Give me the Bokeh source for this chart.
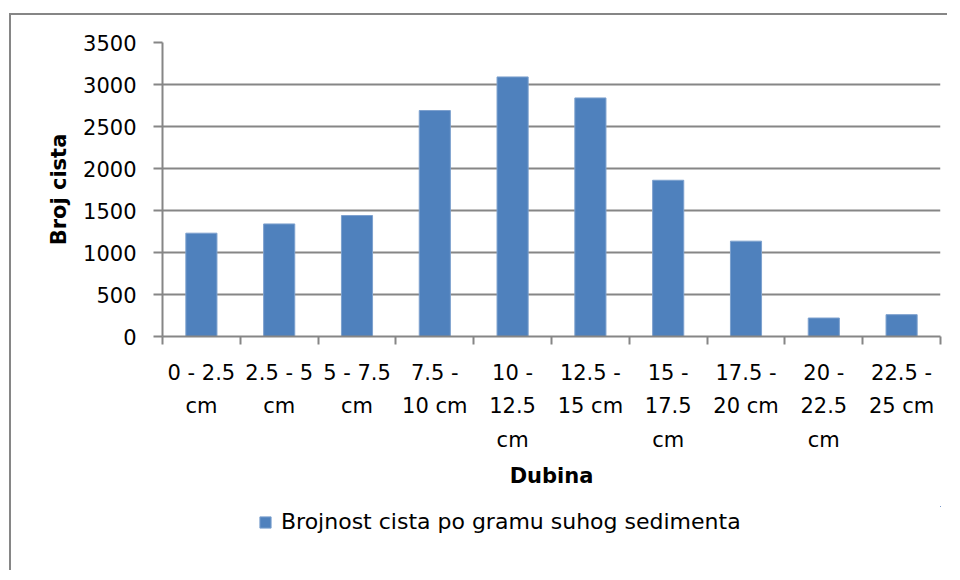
from bokeh.plotting import figure
from bokeh.layouts import column
from bokeh.models import ColumnDataSource, FixedTicker, Legend, LegendItem, Range1d
from bokeh.embed import file_html
from bokeh.resources import INLINE

# ---- data ----
categories = ["0 - 2.5\ncm", "2.5 - 5\ncm", "5 - 7.5\ncm", "7.5 -\n10 cm", "10 -\n12.5\ncm",
              "12.5 -\n15 cm", "15 -\n17.5\ncm", "17.5 -\n20 cm", "20 -\n22.5\ncm", "22.5 -\n25 cm"]
values = [1230, 1340, 1440, 2690, 3090, 2840, 1860, 1135, 220, 260]
y_ticks = [0, 500, 1000, 1500, 2000, 2500, 3000, 3500]
series_name = "Brojnost cista po gramu suhog sedimenta"
x_title = "Dubina"
y_title = "Broj cista"

FONT = "DejaVu Sans"
FS = "21px"
GRAY = "#868686"
BAR = "#4F81BD"
BAR_EDGE = "#7DA1CE"

n = len(categories)
centers = [i + 0.5 for i in range(n)]
bounds = list(range(n + 1))

src = ColumnDataSource(dict(x=centers, top=values, label=categories))

p = figure(frame_width=778, frame_height=294, x_range=Range1d(0, n),
           y_range=Range1d(y_ticks[0], y_ticks[-1]),
           output_backend="svg", toolbar_location=None,
           min_border_left=151, min_border_right=7, min_border_top=27, min_border_bottom=170)
p.outline_line_color = None
p.background_fill_color = "white"
p.border_fill_color = "white"

r = p.vbar(x="x", top="top", width=0.4, source=src, fill_color=BAR, line_color=BAR_EDGE, line_width=1)

# x axis
xa = p.xaxis[0]
xa.ticker = FixedTicker(ticks=centers, minor_ticks=bounds)
xa.major_label_overrides = {c: lab for c, lab in zip(centers, categories)}
xa.major_tick_out = 0
xa.major_tick_in = 0
xa.minor_tick_out = 8
xa.minor_tick_in = 0
xa.minor_tick_line_color = GRAY
xa.minor_tick_line_width = 2
xa.axis_line_color = GRAY
xa.axis_line_width = 2
xa.major_label_text_font = FONT
xa.major_label_text_font_size = FS
xa.major_label_text_color = "black"
xa.major_label_text_line_height = 1.4
xa.major_label_standoff = 16
xa.axis_label = x_title
xa.axis_label_text_font = FONT
xa.axis_label_text_font_size = FS
xa.axis_label_text_font_style = "bold"
xa.axis_label_text_color = "black"
xa.axis_label_standoff = 9

# y axis
ya = p.yaxis[0]
ya.ticker = FixedTicker(ticks=y_ticks)
ya.major_tick_out = 9
ya.major_tick_in = 0
ya.major_tick_line_color = GRAY
ya.major_tick_line_width = 2
ya.minor_tick_line_color = None
ya.axis_line_color = GRAY
ya.axis_line_width = 2
ya.major_label_text_font = FONT
ya.major_label_text_font_size = FS
ya.major_label_text_color = "black"
ya.major_label_standoff = 17
ya.axis_label = y_title
ya.axis_label_text_font = FONT
ya.axis_label_text_font_size = FS
ya.axis_label_text_font_style = "bold"
ya.axis_label_text_color = "black"
ya.axis_label_standoff = 9

p.xgrid.visible = False
p.ygrid.ticker = FixedTicker(ticks=y_ticks)
p.ygrid.grid_line_color = GRAY
p.ygrid.grid_line_width = 2

# ---- legend strip (separate small figure so the legend can sit freely) ----
lg = figure(width=936, height=64, x_range=Range1d(-10, -9), y_range=Range1d(-10, -9),
            output_backend="svg", toolbar_location=None,
            x_axis_location=None, y_axis_location=None,
            min_border_left=0, min_border_right=0, min_border_top=0, min_border_bottom=0)
lg.grid.visible = False
lg.outline_line_color = None
lg.background_fill_color = "white"
lg.border_fill_color = "white"
r2 = lg.vbar(x="x", top="top", width=0.4, source=src, fill_color=BAR, line_color=BAR_EDGE, line_width=1)

legend = Legend(items=[LegendItem(label=series_name, renderers=[r2])],
                orientation="horizontal", location=(96, 36),
                border_line_color=None, background_fill_alpha=0,
                label_text_font=FONT, label_text_font_size="22px", label_text_color="black",
                glyph_width=14, glyph_height=14, label_standoff=9,
                padding=0, spacing=0, margin=0)
lg.add_layout(legend)

layout = column(p, lg, spacing=0,
                styles={"border-left": "2px solid " + GRAY, "border-top": "2px solid " + GRAY,
                        "margin-left": "9px", "margin-top": "13px"})

open("out.html", "w").write(file_html(layout, INLINE))
